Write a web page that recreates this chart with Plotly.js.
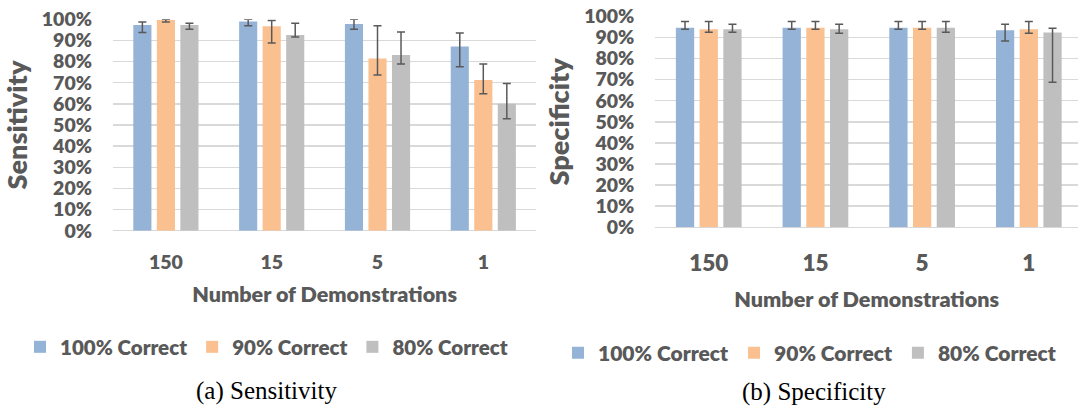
<!DOCTYPE html>
<html>
<head>
<meta charset="utf-8">
<script src="https://cdn.plot.ly/plotly-3.0.1.min.js"></script>
<style>
html,body{margin:0;padding:0;background:#fff;}
#chart{width:1078px;height:411px;}
</style>
</head>
<body>
<div id="chart"></div>
<script>
// ---- data ----
var categories = ['150', '15', '5', '1'];
var seriesNames = ['100% Correct', '90% Correct', '80% Correct'];

var sens100 = [97.3, 99.0, 97.8, 87.1];
var sens100Plus = [1.4, 1.0, 2.2, 6.4];
var sens100Minus = [3.5, 2.0, 2.5, 9.5];
var sens90 = [99.7, 96.7, 81.4, 71.3];
var sens90Plus = [0.3, 2.7, 15.6, 7.6];
var sens90Minus = [1.0, 7.9, 7.7, 6.5];
var sens80 = [97.3, 92.6, 83.1, 60.1];
var sens80Plus = [0.8, 5.5, 10.9, 9.5];
var sens80Minus = [2.0, 1.0, 4.2, 7.1];

var spec100 = [94.6, 94.6, 94.6, 93.4];
var spec100Plus = [2.9, 2.9, 2.9, 2.8];
var spec100Minus = [0.7, 0.7, 0.7, 5.1];
var spec90 = [93.9, 94.6, 94.6, 93.9];
var spec90Plus = [3.6, 2.9, 2.9, 3.6];
var spec90Minus = [1.5, 0.7, 0.7, 1.9];
var spec80 = [93.9, 93.9, 94.6, 92.3];
var spec80Plus = [2.3, 2.3, 2.9, 2.0];
var spec80Minus = [1.5, 1.9, 2.2, 23.6];

var yTicks = [0, 10, 20, 30, 40, 50, 60, 70, 80, 90, 100];
var yTickLabels = ['0%', '10%', '20%', '30%', '40%', '50%', '60%', '70%', '80%', '90%', '100%'];

// ---- styles ----
var colors = ['#95B3D7', '#FAC090', '#BFBFBF'];
var textColor = '#595959';
var fontFam = 'Lato, "Liberation Sans", sans-serif';

function bar(y, plus, minus, idx, xa, ya, leg) {
  return {
    type: 'bar', x: categories, y: y, name: seriesNames[idx],
    xaxis: xa, yaxis: ya, legend: leg,
    marker: {color: colors[idx], line: {width: 0}},
    error_y: {type: 'data', symmetric: false, array: plus, arrayminus: minus,
              color: '#595959', thickness: 1.5, width: 4}
  };
}

var data = [
  bar(sens100, sens100Plus, sens100Minus, 0, 'x', 'y', 'legend'),
  bar(sens90, sens90Plus, sens90Minus, 1, 'x', 'y', 'legend'),
  bar(sens80, sens80Plus, sens80Minus, 2, 'x', 'y', 'legend'),
  bar(spec100, spec100Plus, spec100Minus, 0, 'x2', 'y2', 'legend2'),
  bar(spec90, spec90Plus, spec90Minus, 1, 'x2', 'y2', 'legend2'),
  bar(spec80, spec80Plus, spec80Minus, 2, 'x2', 'y2', 'legend2')
];

function yAxis(domain, titleText, anchor) {
  return {
    domain: domain, anchor: anchor, range: [0, 100],
    tickmode: 'array', tickvals: yTicks, ticktext: yTickLabels,
    showgrid: true, gridcolor: '#d9d9d9', gridwidth: 1.5,
    zeroline: true, zerolinecolor: '#d9d9d9', zerolinewidth: 1.5,
    showline: false, ticks: '', ticklabelstandoff: 20,
    tickfont: {family: fontFam, size: 19.5, color: textColor, weight: 800},
    title: {text: titleText, standoff: 6,
            font: {family: fontFam, size: 27, color: textColor, weight: 800}},
    fixedrange: true
  };
}

function xAxis(domain, range, anchor, tickSize, standoff, titleStandoff) {
  return {
    domain: domain, anchor: anchor, range: range, type: 'category',
    showgrid: false, showline: false, zeroline: false, ticks: '',
    ticklabelstandoff: standoff,
    tickfont: {family: fontFam, size: tickSize, color: textColor, weight: 800},
    title: {text: 'Number of Demonstrations', standoff: titleStandoff,
            font: {family: fontFam, size: 21.5, color: textColor, weight: 800}},
    fixedrange: true
  };
}

var layout = {
  width: 1078, height: 411,
  margin: {l: 0, r: 0, t: 0, b: 0},
  paper_bgcolor: '#fff', plot_bgcolor: 'rgba(0,0,0,0)',
  barmode: 'group', bargap: 0.333, bargroupgap: 0.23,
  showlegend: true,
  font: {family: fontFam, color: textColor},
  xaxis: xAxis([113 / 1078, 536.2 / 1078], [-0.5, 3.5], 'y', 19.5, 18, 14),
  yaxis: yAxis([1 - 230.7 / 411, 1 - 19.3 / 411], 'Sensitivity', 'x'),
  xaxis2: xAxis([655.4 / 1078, 1], [-0.5, 3.461], 'y2', 22.5, 20, 17),
  yaxis2: yAxis([1 - 227.3 / 411, 1 - 16.3 / 411], 'Specificity', 'x2'),
  legend: {orientation: 'h', x: 20 / 1078, xanchor: 'left', y: 1 - 347 / 411, yanchor: 'middle',
           bgcolor: 'rgba(0,0,0,0)', traceorder: 'normal',
           font: {family: fontFam, size: 20.5, color: textColor, weight: 800}},
  legend2: {orientation: 'h', x: 558 / 1078, xanchor: 'left', y: 1 - 353 / 411, yanchor: 'middle',
            bgcolor: 'rgba(0,0,0,0)', traceorder: 'normal',
            font: {family: fontFam, size: 21, color: textColor, weight: 800}},
  annotations: [
    {text: '(a) Sensitivity', xref: 'paper', yref: 'paper', x: 266 / 1078, y: 1 - 391 / 411,
     xanchor: 'center', yanchor: 'middle', showarrow: false,
     font: {family: '"Liberation Serif", "Times New Roman", serif', size: 25, color: '#000'}},
    {text: '(b) Specificity', xref: 'paper', yref: 'paper', x: 813.5 / 1078, y: 1 - 392 / 411,
     xanchor: 'center', yanchor: 'middle', showarrow: false,
     font: {family: '"Liberation Serif", "Times New Roman", serif', size: 25, color: '#000'}}
  ]
};

Plotly.newPlot('chart', data, layout, {staticPlot: true, displayModeBar: false});
</script>
</body>
</html>
